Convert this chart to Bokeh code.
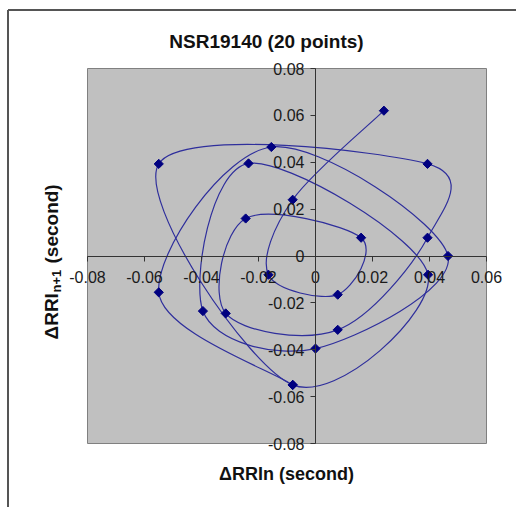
import numpy as np
from bokeh.plotting import figure
from bokeh.models import Range1d, FixedTicker, LinearAxis, Label, ColumnDataSource
from bokeh.embed import file_html
from bokeh.resources import INLINE

# successive RR-interval differences (seconds): 21 values -> 20 Poincare points
drr = [-0.008, -0.055, -0.0155, 0.0465, 0.0, -0.0395, -0.0235, 0.0395, -0.008, -0.055,
       0.0393, 0.0393, 0.0078, -0.0315, -0.0245, 0.016, 0.0078, -0.0165, -0.008, 0.024, 0.062]

x_ticks = [-0.08, -0.06, -0.04, -0.02, 0.0, 0.02, 0.04, 0.06]
x_tick_labels = ["-0.08", "-0.06", "-0.04", "-0.02", "0", "0.02", "0.04", "0.06"]
y_ticks = [-0.08, -0.06, -0.04, -0.02, 0.0, 0.02, 0.04, 0.06, 0.08]
y_tick_labels = ["-0.08", "-0.06", "-0.04", "-0.02", "0", "0.02", "0.04", "0.06", "0.08"]

chart_title = "NSR19140 (20 points)"
x_title = "ΔRRIn (second)"
y_title_parts = ["ΔRRI", "n+1", "(second)"]

xs = np.array(drr[:-1])
ys = np.array(drr[1:])

# smoothed connecting line: Catmull-Rom style Bezier control points from the data
n = len(xs)
px = np.concatenate([[xs[0]], xs, [xs[-1]]])
py = np.concatenate([[ys[0]], ys, [ys[-1]]])
x0 = xs[:-1]; y0 = ys[:-1]; x1 = xs[1:]; y1 = ys[1:]
cx0 = x0 + (px[2:n + 1] - px[0:n - 1]) / 6.0
cy0 = y0 + (py[2:n + 1] - py[0:n - 1]) / 6.0
cx1 = x1 - (px[3:n + 2] - px[1:n]) / 6.0
cy1 = y1 - (py[3:n + 2] - py[1:n]) / 6.0
bez = ColumnDataSource(dict(x0=x0, y0=y0, x1=x1, y1=y1, cx0=cx0, cy0=cy0, cx1=cx1, cy1=cy1))

# layout: the frame fills the canvas; the grey plot area is placed by the ranges
W, H = 516, 507
AREA_L, AREA_R, AREA_T, AREA_B = 87, 486, 68, 443
kx = (AREA_R - AREA_L) / (x_ticks[-1] - x_ticks[0])
ky = (AREA_B - AREA_T) / (y_ticks[-1] - y_ticks[0])
xr0 = x_ticks[0] - AREA_L / kx
yr1 = y_ticks[-1] + AREA_T / ky

p = figure(width=W, height=H, output_backend="svg", toolbar_location=None,
           x_range=Range1d(xr0, xr0 + W / kx), y_range=Range1d(yr1 - H / ky, yr1),
           x_axis_type=None, y_axis_type=None,
           min_border_left=0, min_border_right=0, min_border_top=0, min_border_bottom=0)
p.grid.visible = False
p.background_fill_color = "white"
p.border_fill_color = "white"
p.outline_line_color = None

# chart border (top and left edges)
bx = xr0 + 7.5 / kx
by = yr1 - 9.5 / ky
p.segment(x0=[bx, bx], y0=[by, by], x1=[bx, xr0 + W / kx], y1=[yr1 - H / ky, by],
          line_color="#555555", line_width=2)

# grey plot area
p.quad(left=[x_ticks[0]], right=[x_ticks[-1]], bottom=[y_ticks[0]], top=[y_ticks[-1]],
       fill_color="#C0C0C0", line_color="#808080", line_width=1)

FONT = "Liberation Sans"

xa = LinearAxis(fixed_location=0, bounds=(x_ticks[0], x_ticks[-1]),
                ticker=FixedTicker(ticks=x_ticks, minor_ticks=[]))
xa.major_label_overrides = {t: s for t, s in zip(x_ticks, x_tick_labels)}
ya = LinearAxis(fixed_location=0, bounds=(y_ticks[0], y_ticks[-1]),
                ticker=FixedTicker(ticks=y_ticks, minor_ticks=[]))
ya.major_label_overrides = {t: s for t, s in zip(y_ticks, y_tick_labels)}
for ax in (xa, ya):
    ax.axis_line_color = "#333333"
    ax.axis_line_width = 1
    ax.major_tick_line_color = "#333333"
    ax.major_tick_out = 5
    ax.major_tick_in = 0
    ax.minor_tick_out = 0
    ax.minor_tick_in = 0
    ax.major_label_text_font = FONT
    ax.major_label_text_font_size = "16px"
    ax.major_label_text_color = "#1a1a1a"
xa.major_label_standoff = 10
ya.major_label_standoff = 6
p.add_layout(xa, "below")
p.add_layout(ya, "left")

p.bezier(x0="x0", y0="y0", x1="x1", y1="y1", cx0="cx0", cy0="cy0", cx1="cx1", cy1="cy1",
         source=bez, line_color="#2f2f9c", line_width=1.2)
p.scatter(xs, ys, marker="square", angle=np.pi / 4, size=6.5,
          fill_color="#000080", line_color="#000080")

def lbl(text, x, y, size, angle=0.0, align="center"):
    p.add_layout(Label(x=x, y=y, x_units="screen", y_units="screen", text=text, angle=angle,
                       text_align=align, text_baseline="middle", text_font=FONT,
                       text_font_size=size, text_font_style="bold", text_color="#111111"))

lbl(chart_title, 266, H - 41, "19px")
lbl(x_title, 286, H - 473, "18px")
# rotated y title with subscript n+1 (reads bottom to top)
lbl(y_title_parts[0], 51, H - 339, "19px", angle=np.pi / 2, align="left")
lbl(y_title_parts[1], 56, H - 292, "13px", angle=np.pi / 2, align="left")
lbl(y_title_parts[2], 51, H - 263, "19px", angle=np.pi / 2, align="left")

open("out.html", "w").write(file_html(p, INLINE))
